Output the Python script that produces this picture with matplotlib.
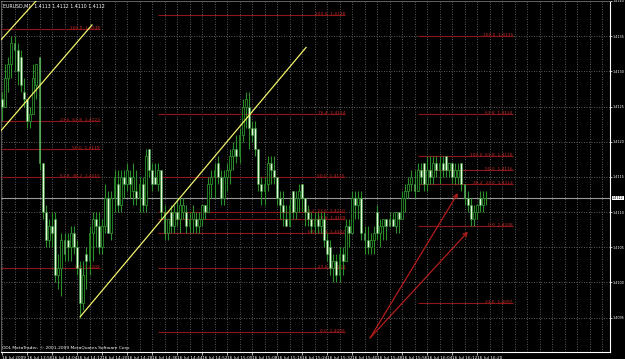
import matplotlib.pyplot as plt
from matplotlib import transforms

plt.rcParams['font.family'] = ['Liberation Sans Narrow', 'DejaVu Sans']

# ---- chart data (EURUSD M1, 16 Jul 2009) ----
symbol_title = "EURUSD,M1  1.4113 1.4112 1.4110 1.4112"
copyright_text = "ODL MetaTrader, \u00a9 2001-2009 MetaQuotes Software Corp."

opens = [1.4126, 1.4125, 1.4129, 1.4131, 1.4134, 1.4133, 1.4132, 1.4127, 1.4126, 1.4123,
         1.4124, 1.4128, 1.4132, 1.4117, 1.4110, 1.4106, 1.4108, 1.4109, 1.4101, 1.4102,
         1.4106, 1.4106, 1.4105, 1.4107, 1.4105, 1.4102, 1.4097, 1.4104, 1.4103, 1.4107,
         1.4109, 1.4108, 1.4105, 1.4108, 1.4112, 1.4107, 1.4112, 1.4114, 1.4111, 1.4115,
         1.4114, 1.4115, 1.4113, 1.4113, 1.4112, 1.4114, 1.4111, 1.4119, 1.4116, 1.4115,
         1.4114, 1.4116, 1.4110, 1.4107, 1.4110, 1.4108, 1.4110, 1.4109, 1.4110, 1.4110,
         1.4108, 1.4109, 1.4109, 1.4108, 1.4109, 1.4111, 1.4110, 1.4114, 1.4115, 1.4117,
         1.4115, 1.4112, 1.4115, 1.4116, 1.4118, 1.4119, 1.4118, 1.4121, 1.4125, 1.4125,
         1.4122, 1.4122, 1.4119, 1.4114, 1.4113, 1.4114, 1.4117, 1.4116, 1.4115, 1.4112,
         1.4111, 1.4109, 1.4108, 1.4113, 1.4110, 1.4112, 1.4114, 1.4112, 1.4110, 1.4109,
         1.4108, 1.4109, 1.4108, 1.4109, 1.4106, 1.4105, 1.4102, 1.4103, 1.4101, 1.4104,
         1.4103, 1.4108, 1.4107, 1.4112, 1.4111, 1.4112, 1.4107, 1.4106, 1.4105, 1.4106,
         1.4110, 1.4107, 1.4108, 1.4109, 1.4109, 1.4109, 1.4108, 1.4110, 1.4109, 1.4112,
         1.4113, 1.4114, 1.4114, 1.4113, 1.4116, 1.4117, 1.4114, 1.4116, 1.4115, 1.4117,
         1.4116, 1.4117, 1.4118, 1.4116, 1.4117, 1.4115, 1.4115, 1.4117, 1.4114, 1.4112,
         1.4111, 1.4109, 1.4110, 1.4112, 1.4111, 1.4112]

highs = [1.4127, 1.4131, 1.4132, 1.4135, 1.4135, 1.4134, 1.4133, 1.4129, 1.4126, 1.4125,
         1.4131, 1.4131, 1.4132, 1.4117, 1.4111, 1.4109, 1.4110, 1.4110, 1.4104, 1.4107,
         1.4107, 1.4107, 1.4108, 1.4108, 1.4106, 1.4103, 1.4103, 1.4105, 1.4108, 1.4110,
         1.4110, 1.4110, 1.4109, 1.4114, 1.4113, 1.4113, 1.4116, 1.4116, 1.4116, 1.4116,
         1.4117, 1.4116, 1.4117, 1.4116, 1.4115, 1.4115, 1.4119, 1.4119, 1.4117, 1.4117,
         1.4117, 1.4116, 1.4111, 1.4109, 1.4111, 1.4111, 1.4112, 1.4112, 1.4112, 1.4111,
         1.4110, 1.4111, 1.4110, 1.4110, 1.4111, 1.4111, 1.4115, 1.4116, 1.4117, 1.4118,
         1.4116, 1.4116, 1.4117, 1.4119, 1.4120, 1.4121, 1.4122, 1.4126, 1.4127, 1.4127,
         1.4123, 1.4123, 1.4119, 1.4115, 1.4115, 1.4118, 1.4118, 1.4118, 1.4115, 1.4113,
         1.4113, 1.4111, 1.4112, 1.4113, 1.4113, 1.4114, 1.4114, 1.4112, 1.4111, 1.4110,
         1.4110, 1.4110, 1.4110, 1.4110, 1.4107, 1.4106, 1.4104, 1.4104, 1.4105, 1.4105,
         1.4109, 1.4109, 1.4113, 1.4113, 1.4113, 1.4113, 1.4108, 1.4108, 1.4107, 1.4108,
         1.4111, 1.4109, 1.4109, 1.4109, 1.4110, 1.4110, 1.4110, 1.4110, 1.4113, 1.4114,
         1.4115, 1.4116, 1.4116, 1.4117, 1.4117, 1.4117, 1.4118, 1.4118, 1.4118, 1.4118,
         1.4118, 1.4118, 1.4118, 1.4117, 1.4117, 1.4117, 1.4117, 1.4117, 1.4114, 1.4113,
         1.4112, 1.4111, 1.4111, 1.4113, 1.4113, 1.4113]

lows = [1.4123, 1.4125, 1.4127, 1.4129, 1.4130, 1.4128, 1.4127, 1.4125, 1.4122, 1.4122,
        1.4124, 1.4126, 1.4116, 1.4109, 1.4105, 1.4105, 1.4105, 1.4100, 1.4099, 1.4098,
        1.4103, 1.4103, 1.4103, 1.4104, 1.4101, 1.4095, 1.4096, 1.4099, 1.4101, 1.4103,
        1.4105, 1.4104, 1.4104, 1.4107, 1.4107, 1.4106, 1.4110, 1.4110, 1.4110, 1.4112,
        1.4113, 1.4112, 1.4111, 1.4111, 1.4110, 1.4110, 1.4110, 1.4115, 1.4113, 1.4114,
        1.4113, 1.4109, 1.4106, 1.4106, 1.4107, 1.4107, 1.4108, 1.4107, 1.4109, 1.4107,
        1.4107, 1.4107, 1.4107, 1.4107, 1.4108, 1.4109, 1.4110, 1.4112, 1.4112, 1.4114,
        1.4111, 1.4111, 1.4113, 1.4114, 1.4116, 1.4117, 1.4117, 1.4120, 1.4122, 1.4119,
        1.4120, 1.4118, 1.4113, 1.4111, 1.4111, 1.4113, 1.4114, 1.4114, 1.4111, 1.4109,
        1.4108, 1.4108, 1.4108, 1.4109, 1.4109, 1.4110, 1.4110, 1.4108, 1.4108, 1.4107,
        1.4107, 1.4107, 1.4107, 1.4105, 1.4103, 1.4101, 1.4100, 1.4100, 1.4100, 1.4101,
        1.4103, 1.4105, 1.4107, 1.4109, 1.4109, 1.4106, 1.4104, 1.4104, 1.4104, 1.4104,
        1.4106, 1.4105, 1.4106, 1.4106, 1.4108, 1.4108, 1.4107, 1.4107, 1.4109, 1.4110,
        1.4112, 1.4113, 1.4112, 1.4113, 1.4114, 1.4113, 1.4113, 1.4114, 1.4114, 1.4115,
        1.4114, 1.4115, 1.4115, 1.4115, 1.4114, 1.4114, 1.4114, 1.4113, 1.4111, 1.4110,
        1.4108, 1.4108, 1.4109, 1.4110, 1.4110, 1.4111]

closes = [1.4125, 1.4129, 1.4131, 1.4134, 1.4133, 1.4130, 1.4128, 1.4126, 1.4123, 1.4124,
          1.4129, 1.4131, 1.4117, 1.4110, 1.4106, 1.4108, 1.4107, 1.4101, 1.4102, 1.4106,
          1.4104, 1.4105, 1.4107, 1.4105, 1.4102, 1.4097, 1.4101, 1.4103, 1.4107, 1.4109,
          1.4108, 1.4105, 1.4108, 1.4112, 1.4107, 1.4112, 1.4115, 1.4111, 1.4115, 1.4114,
          1.4116, 1.4114, 1.4115, 1.4112, 1.4114, 1.4111, 1.4118, 1.4116, 1.4114, 1.4114,
          1.4116, 1.4110, 1.4107, 1.4109, 1.4108, 1.4110, 1.4109, 1.4111, 1.4111, 1.4108,
          1.4109, 1.4110, 1.4108, 1.4109, 1.4111, 1.4110, 1.4114, 1.4115, 1.4116, 1.4115,
          1.4112, 1.4115, 1.4116, 1.4118, 1.4119, 1.4118, 1.4121, 1.4125, 1.4126, 1.4122,
          1.4121, 1.4119, 1.4114, 1.4113, 1.4114, 1.4117, 1.4116, 1.4115, 1.4112, 1.4111,
          1.4110, 1.4108, 1.4111, 1.4110, 1.4112, 1.4113, 1.4112, 1.4110, 1.4109, 1.4108,
          1.4109, 1.4108, 1.4109, 1.4106, 1.4104, 1.4102, 1.4103, 1.4101, 1.4104, 1.4103,
          1.4108, 1.4107, 1.4112, 1.4111, 1.4112, 1.4107, 1.4106, 1.4105, 1.4106, 1.4107,
          1.4107, 1.4108, 1.4109, 1.4108, 1.4108, 1.4108, 1.4110, 1.4109, 1.4112, 1.4113,
          1.4114, 1.4115, 1.4113, 1.4116, 1.4115, 1.4114, 1.4116, 1.4115, 1.4117, 1.4116,
          1.4117, 1.4116, 1.4116, 1.4117, 1.4115, 1.4116, 1.4116, 1.4114, 1.4112, 1.4111,
          1.4109, 1.4110, 1.4111, 1.4111, 1.4112, 1.4112]

time_labels = ["16 Jul 2009", "16 Jul 13:56", "16 Jul 14:04", "16 Jul 14:12", "16 Jul 14:20",
               "16 Jul 14:28", "16 Jul 14:36", "16 Jul 14:44", "16 Jul 14:52", "16 Jul 15:00",
               "16 Jul 15:08", "16 Jul 15:16", "16 Jul 15:24", "16 Jul 15:32", "16 Jul 15:40",
               "16 Jul 15:48", "16 Jul 15:56", "16 Jul 16:04", "16 Jul 16:12", "16 Jul 16:20"]
price_ticks = [1.4095, 1.4100, 1.4105, 1.4110, 1.4115, 1.4120, 1.4125, 1.4130, 1.4135, 1.4140]
last_price = 1.4112

# fibo levels: (bar from, bar to), prices, labels
fib_a_span = (-1, 31.4)
fib_a_prices = [1.4136, 1.4123, 1.4119, 1.4115, 1.4102]
fib_a_labels = ["100.0  1.4136", "23.6  61.8  1.4123", "50.0  1.4119", "61.8  38.2  1.4115", "0.0  1.4102"]

fib_b_span = (49.9, 109.8)
fib_b_prices = [1.4138, 1.4124, 1.4115, 1.4110, 1.4109, 1.4107, 1.4102, 1.4093]
fib_b_labels = ["100.0  1.4138", "76.4  1.4124", "50.0  1.4115", "38.2  23.6  1.4110",
                "23.6  1.4109", "0.0  61.8  1.4107", "23.6  1.4102", "0.0  1.4093"]

fib_c_span = (133.1, 163.5)
fib_c_prices = [1.4135, 1.4124, 1.4118, 1.4116, 1.4114, 1.4108, 1.4097]
fib_c_labels = ["100.0  1.4135", "61.8  1.4124", "100.0  61.8  1.4118", "50.0  1.4116",
                "38.2  23.6  1.4114", "0.0  1.4108", "23.6  1.4097"]

# trend lines (bar, price) pairs
trend_lines = [((-0.5, 1.41344), (11.5, 1.41403)),
               ((-0.64, 1.41214), (28.8, 1.41366)),
               ((25.0, 1.40951), (97.3, 1.41334))]

# hand drawn arrows
arrows = [((117.8, 1.40921), (145.9, 1.41127)),
          ((117.8, 1.40921), (149.1, 1.41072))]

# ---- colours ----
BG = 'black'
WICK = '#2b8f2b'
BEAR_BODY = '#e4fbdc'
FIB = '#8e1616'
FIB_TXT = '#c42a2a'
TREND = '#f2f26a'
GRID = '#7a7a7a'

fig = plt.figure(figsize=(6.25, 3.59), dpi=100, facecolor=BG)
ax = fig.add_axes([1 / 625, 7 / 359, 609 / 625, 351 / 359])
ax.set_facecolor(BG)

bars = list(range(len(opens)))

# grid
ax.set_xticks(list(range(0, 153, 8)))
ax.set_xticklabels(time_labels, ha='left')
ax.set_xticks(list(range(0, 195, 4)), minor=True)
ax.set_yticks(price_ticks)
ax.set_yticklabels([f'{p:.4f}' for p in price_ticks])
ax.grid(True, which='both', axis='x', color=GRID, linestyle=(0, (1, 2)), linewidth=0.6)
ax.grid(True, which='major', axis='y', color=GRID, linestyle=(0, (1, 2)), linewidth=0.6)
ax.set_axisbelow(True)

# last price line
ax.axhline(last_price, color='#9a9a9a', linewidth=0.8, zorder=1.5)

# fibo levels
for span, prices, labels in [(fib_a_span, fib_a_prices, fib_a_labels),
                             (fib_b_span, fib_b_prices, fib_b_labels),
                             (fib_c_span, fib_c_prices, fib_c_labels)]:
    ax.hlines(prices, span[0], span[1], color=FIB, linewidth=0.8, zorder=2)
    for p, lab in zip(prices, labels):
        ax.text(span[1], p, lab, color=FIB_TXT, fontsize=3.2, ha='right', va='baseline', zorder=2)

# candles
ax.vlines(bars, lows, highs, color=WICK, linewidth=0.8, zorder=3)
for i in bars:
    o, c = opens[i], closes[i]
    if c > o:
        ax.bar(i, c - o, bottom=o, width=0.62, color=BG, edgecolor=WICK, linewidth=0.6, zorder=4)
    elif c < o:
        ax.bar(i, o - c, bottom=c, width=0.62, color=BEAR_BODY, edgecolor=WICK, linewidth=0.4, zorder=4)
    else:
        ax.hlines(o, i - 0.35, i + 0.35, color=WICK, linewidth=0.8, zorder=4)

# trend lines
for (x0, y0), (x1, y1) in trend_lines:
    ax.plot([x0, x1], [y0, y1], color=TREND, linewidth=0.9, zorder=5)

# arrows
for start, end in arrows:
    ax.annotate('', xy=end, xytext=start,
                arrowprops=dict(arrowstyle='->', color='#b51c1c', lw=0.9,
                                mutation_scale=7, shrinkA=0, shrinkB=0), zorder=5)

ax.set_xlim(-0.32, 194.56)
ax.set_ylim(1.40901, 1.41400)

# axes look
ax.yaxis.tick_right()
ax.tick_params(axis='y', colors='white', labelsize=2.4, length=1.2, width=0.5, pad=0.4)
ax.tick_params(axis='x', which='major', colors='white', labelsize=3.1, length=2, width=0.5, pad=1)
ax.tick_params(axis='x', which='minor', length=0)
for side in ['right', 'bottom']:
    ax.spines[side].set_color('white')
    ax.spines[side].set_linewidth(0.8)
for side in ['top', 'left']:
    ax.spines[side].set_color('#6a6a6a')
    ax.spines[side].set_linewidth(0.6)

# texts
ax.text(0.004, 0.993, symbol_title, transform=ax.transAxes, color='white',
        fontsize=3.4, ha='left', va='top')
ax.text(0.002, 0.006, copyright_text, transform=ax.transAxes, color='white',
        fontsize=3.2, ha='left', va='bottom')
trans = transforms.blended_transform_factory(ax.transAxes, ax.transData)
ax.text(1.003, last_price, f'{last_price:.4f}', transform=trans, color='black',
        fontsize=2.4, ha='left', va='center',
        bbox=dict(facecolor='white', edgecolor='none', pad=0.2))

fig.savefig('out.png', dpi=100, facecolor=BG)
